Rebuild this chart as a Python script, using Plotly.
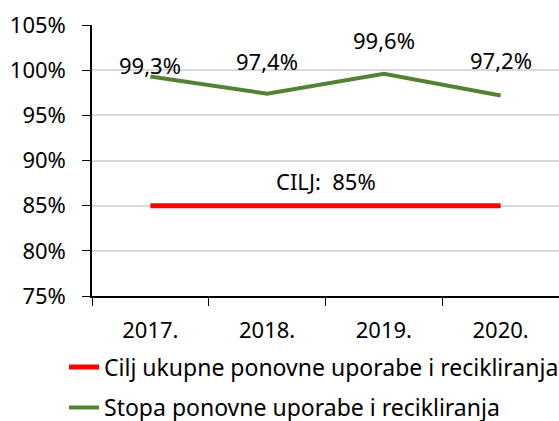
import plotly.graph_objects as go

years = ["2017.", "2018.", "2019.", "2020."]
stopa = [99.3, 97.4, 99.6, 97.2]
cilj = [85, 85, 85, 85]
stopa_labels = ["99,3%", "97,4%", "99,6%", "97,2%"]
cilj_label = "CILJ:  85%"
y_ticks = [75, 80, 85, 90, 95, 100, 105]
y_tick_text = ["75%", "80%", "85%", "90%", "95%", "100%", "105%"]
name_cilj = "Cilj ukupne ponovne uporabe i recikliranja"
name_stopa = "Stopa ponovne uporabe i recikliranja"

FONT = "Noto Sans"
FS = 22
FL = 23
fig = go.Figure()
fig.add_trace(go.Scatter(x=years, y=cilj, mode="lines", name=name_cilj,
                         line=dict(color="#ff0000", width=5), legend="legend"))
fig.add_trace(go.Scatter(x=years, y=stopa, mode="lines", name=name_stopa,
                         line=dict(color="#548235", width=4), legend="legend2"))

shifts = [11, 33, 34, 35]
for i, (y, t, s) in enumerate(zip(stopa, stopa_labels, shifts)):
    fig.add_annotation(x=i, y=y, text=t, showarrow=False, yshift=s,
                       font=dict(family=FONT, size=FS, color="#000"))
fig.add_annotation(x=1.5, y=cilj[0], text=cilj_label, showarrow=False, yshift=25,
                   font=dict(family=FONT, size=FS, color="#000"))

fig.update_layout(
    width=559, height=421,
    margin=dict(l=92, r=0, t=25, b=125, autoexpand=False),
    plot_bgcolor="white", paper_bgcolor="white",
    font=dict(family=FONT, size=FS, color="#000"),
    showlegend=True,
    legend=dict(xref="container", yref="container", x=0.1145, xanchor="left",
                y=0.128, yanchor="middle", font=dict(size=FL), bgcolor="rgba(0,0,0,0)"),
    legend2=dict(xref="container", yref="container", x=0.1145, xanchor="left",
                 y=0.032, yanchor="middle", font=dict(size=FL), bgcolor="rgba(0,0,0,0)"),
    xaxis=dict(type="category", range=[-0.5, 3.5], showline=True, linecolor="#000",
               linewidth=1.5, ticks="outside", tickson="boundaries", ticklen=8,
               tickcolor="#000", showgrid=False, tickfont=dict(size=FS),
               ticklabelstandoff=14),
    yaxis=dict(range=[75, 105], tickvals=y_ticks, ticktext=y_tick_text, showline=True,
               linecolor="#000", linewidth=1.5, ticks="outside", ticklen=8,
               tickcolor="#000", gridcolor="#d9d9d9", gridwidth=1.5,
               tickfont=dict(size=FS), zeroline=False, ticklabelstandoff=12),
)
fig.write_html("out.html", config={"displayModeBar": False},
               post_script="document.body.style.margin='0';")
